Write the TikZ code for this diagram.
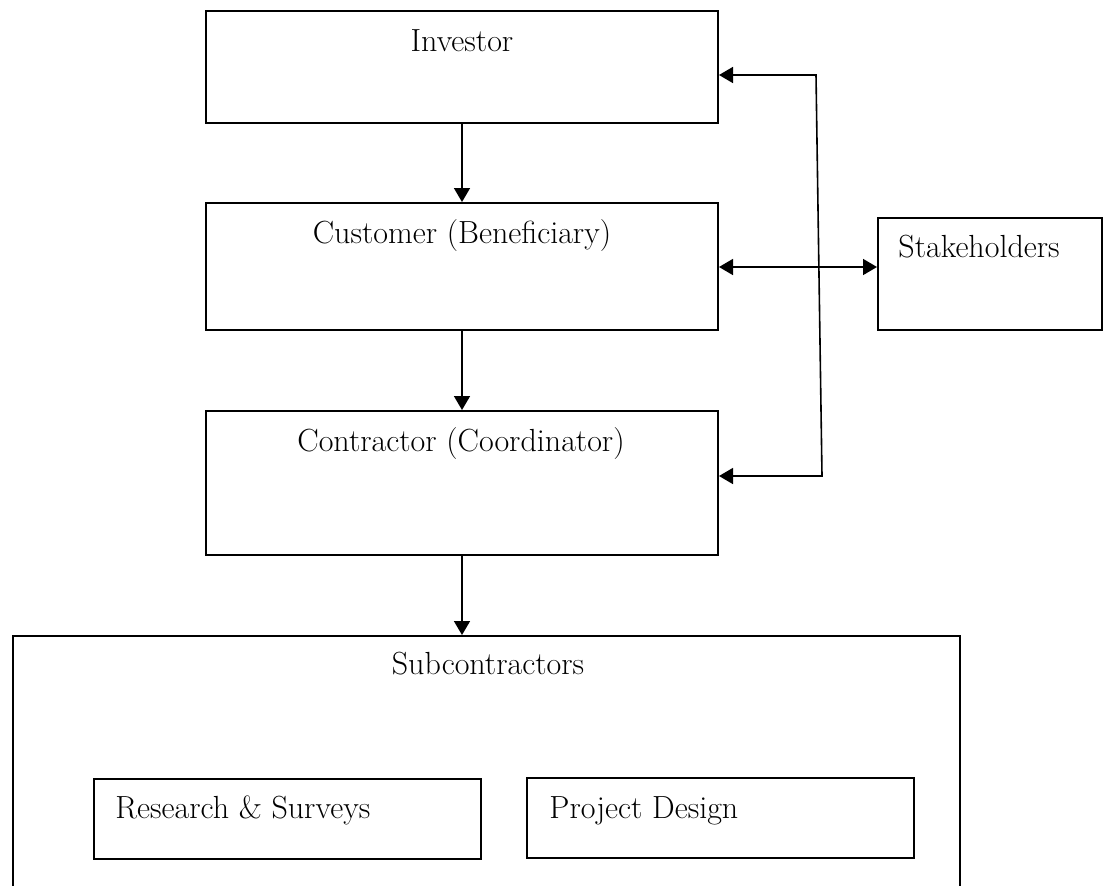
\documentclass[tikz,border=0pt]{standalone}
\usepackage{fontspec}
\usetikzlibrary{arrows.meta}
\begin{document}
\begin{tikzpicture}[x=0.5pt,y=-0.5pt,
  box/.style={draw=black,line width=1pt,rectangle,inner sep=0pt},
  lbl/.style={inner sep=0pt,font=\fontsize{16}{19}\selectfont},
  arr/.style={line width=0.8pt,-{Triangle[length=7pt,width=8pt]}},
  darr/.style={line width=0.8pt,{Triangle[length=7pt,width=8pt]}-{Triangle[length=7pt,width=8pt]}}]
\useasboundingbox (0,0) rectangle (1107,885);
\clip (0,0) rectangle (1107,885);
\fill[white] (0,0) rectangle (1107,885);
% boxes
\node[box,minimum width=256pt,minimum height=56pt] (inv) at (462,67) {};
\node[box,minimum width=256pt,minimum height=63.5pt] (cust) at (462,266.5) {};
\node[box,minimum width=256pt,minimum height=72pt] (cont) at (462,483) {};
\node[box,minimum width=112pt,minimum height=56pt] (stake) at (990,274) {};
\node[box,anchor=north,minimum width=473.5pt,minimum height=160pt] (sub) at (486.5,635) {};
\node[box,minimum width=193.5pt,minimum height=40pt] (res) at (287.5,819) {};
\node[box,minimum width=193.5pt,minimum height=40pt] (proj) at (720.5,818) {};
% labels
\node[lbl,anchor=base] (tinv) at (462,51) {Investor};
\node[lbl,anchor=base] (tcust) at (462,243) {Customer (Beneficiary)};
\node[lbl,anchor=base] (tcont) at (461,451) {Contractor (Coordinator)};
\node[lbl,anchor=base west] (tstake) at (898,257) {Stakeholders};
\node[lbl,anchor=base] (tsub) at (488,674) {Subcontractors};
\node[lbl,anchor=base west] (tres) at (115,818) {Research \& Surveys};
\node[lbl,anchor=base west] (tproj) at (549,818) {Project Design};
% connectors
\coordinate (c1) at (816,75);
\coordinate (c2) at (822,476);
\coordinate (m) at (800,267);
\draw[arr] (inv.south) -- (cust.north);
\draw[arr] (cust.south) -- (cont.north);
\draw[arr] (cont.south) -- (cont.south |- sub.north);
\draw[darr] (inv.east |- c1) -- (c1) -- (c2) -- (cont.east |- c2);
\draw[darr] (cust.east |- m) -- (stake.west |- m);
\end{tikzpicture}
\end{document}
